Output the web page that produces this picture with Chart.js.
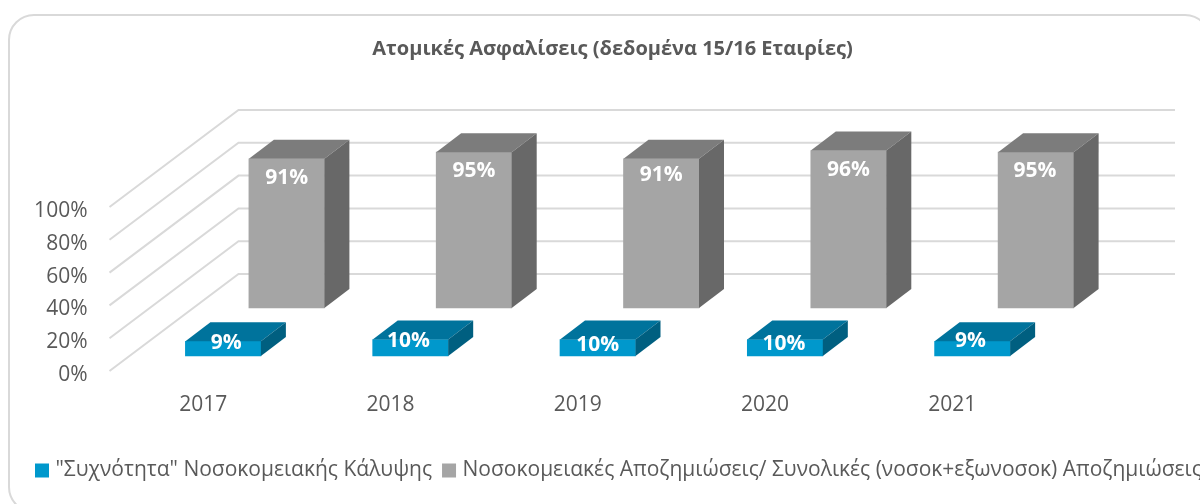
<!DOCTYPE html>
<html><head><meta charset="utf-8">
<style>html,body{margin:0;padding:0;background:#fff;overflow:hidden;width:1200px;height:504px}canvas{display:block}</style>
<script src="https://cdn.jsdelivr.net/npm/chart.js@4"></script></head>
<body><canvas id="c" width="1225" height="504"></canvas>
<script>
const categories = ["2017","2018","2019","2020","2021"];
const frequency = [9,10,10,10,9];
const hospitalShare = [91,95,91,96,95];
const titleText = "Ατομικές Ασφαλίσεις (δεδομένα 15/16 Εταιρίες)";
const seriesNames = ['"Συχνότητα" Νοσοκομειακής Κάλυψης','Νοσοκομειακές Αποζημιώσεις/ Συνολικές (νοσοκ+εξωνοσοκ) Αποζημιώσεις'];

const FONT='"Open Sans"';
const TXT='#595959', GRID='#D9D9D9';
const look=[
 {dx:20,dy:-19,front:'#0098CC',top:'#00739C',side:'#005F80',labelY:3,nudge:[[3,-1],[-2,-2],[0,2],[-1,1],[-2,-3]]},
 {dx:83.5,dy:-67,front:'#A5A5A5',top:'#7C7C7C',side:'#686868',labelY:19,nudge:[[0,0],[0,0],[0,-3],[0,0],[-1,0]]}
];
const DEPTH_X=25, DEPTH_Y=19, BACK_X=129, BACK_Y=97, WALL_SHIFT=-4;

const depth3d={id:'depth3d',
 afterLayout(chart){ chart.titleBlock.left=0; },
 beforeDraw(chart){
  const c=chart.ctx;c.save();
  c.strokeStyle=GRID;c.lineWidth=2;c.beginPath();
  c.roundRect(9,15,1201,497,25);c.stroke();c.restore();
 },
 beforeDatasetsDraw(chart){
  const c=chart.ctx,y=chart.scales.y,a=chart.chartArea;
  c.save();c.strokeStyle=GRID;c.lineWidth=2;c.beginPath();
  y.ticks.forEach(t=>{
   const p=y.getPixelForValue(t.value)+WALL_SHIFT;
   c.moveTo(a.left,p);c.lineTo(a.left+BACK_X,p-BACK_Y);c.lineTo(a.right+BACK_X,p-BACK_Y);
  });
  c.stroke();c.restore();
 },
 beforeDatasetDraw(chart,args){
  const l=look[args.index],c=chart.ctx;
  c.save();c.translate(l.dx,l.dy);
 },
 afterDatasetDraw(chart,args){
  const l=look[args.index],c=chart.ctx;
  const vals=chart.data.datasets[args.index].data;
  args.meta.data.forEach((b,i)=>{
   const x0=b.x-b.width/2,x1=b.x+b.width/2,yt=b.y,yb=b.base;
   c.fillStyle=l.top;c.beginPath();
   c.moveTo(x0,yt);c.lineTo(x0+DEPTH_X,yt-DEPTH_Y);c.lineTo(x1+DEPTH_X,yt-DEPTH_Y);c.lineTo(x1,yt);c.closePath();c.fill();
   c.fillStyle=l.side;c.beginPath();
   c.moveTo(x1,yt);c.lineTo(x1+DEPTH_X,yt-DEPTH_Y);c.lineTo(x1+DEPTH_X,yb-DEPTH_Y);c.lineTo(x1,yb);c.closePath();c.fill();
  });
  c.fillStyle='#fff';c.font='700 21px '+FONT;c.textAlign='center';c.textBaseline='middle';
  args.meta.data.forEach((b,i)=>{
   const n=l.nudge[i];
   c.fillText(vals[i]+'%',b.x+n[0],b.y+l.labelY+n[1]);
  });
  c.restore();
 }
};

new Chart(document.getElementById('c'),{
 type:'bar',
 data:{labels:categories,datasets:[
  {label:seriesNames[0],data:frequency,backgroundColor:look[0].front,barThickness:75.5,grouped:false,clip:false},
  {label:seriesNames[1],data:hospitalShare,backgroundColor:look[1].front,barThickness:75.5,grouped:false,clip:false}
 ]},
 options:{responsive:false,animation:false,
  layout:{padding:{left:25,right:0,top:0,bottom:13}},
  scales:{
   x:{grid:{display:false},border:{display:false},
      ticks:{color:TXT,font:{family:FONT,size:21},padding:9,maxRotation:0},
      afterFit(s){s.height=71}},
   y:{min:0,max:100,grid:{display:false},border:{display:false},
      ticks:{stepSize:20,color:TXT,font:{family:FONT,size:21},padding:14,callback:v=>v+'%'},
      afterFit(s){s.width=84.5}},
   rightGap:{type:'linear',position:'right',display:true,grid:{display:false},border:{display:false},
      ticks:{display:false},afterFit(s){s.width=179}}
  },
  plugins:{
   title:{display:true,text:titleText,color:TXT,font:{family:FONT,size:20,weight:'700'},padding:{top:37,bottom:150}},
   legend:{display:true,position:'bottom',align:'start',
     labels:{boxWidth:6,boxHeight:6,color:TXT,font:{family:FONT,size:21},padding:14,
       generateLabels(chart){
         return Chart.defaults.plugins.legend.labels.generateLabels(chart).map(it=>({...it,strokeStyle:it.fillStyle,lineWidth:8}));
       }}},
   tooltip:{enabled:false}
  }
 },
 plugins:[depth3d]
});
</script></body></html>
